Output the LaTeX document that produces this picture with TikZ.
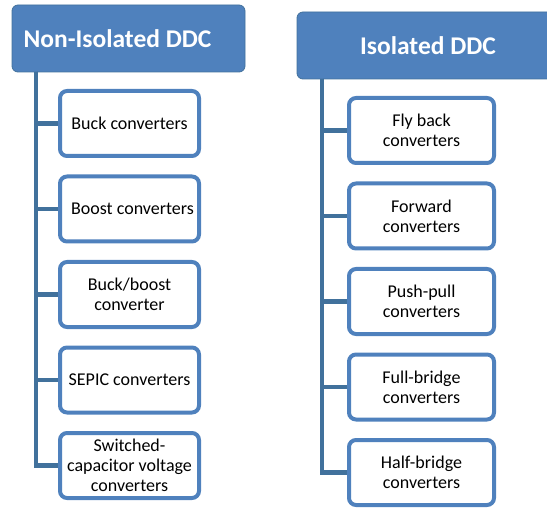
\documentclass[tikz,border=0pt]{standalone}
\usepackage{fontspec}
\setmainfont{Carlito}
\usetikzlibrary{positioning}
\definecolor{hdrblue}{HTML}{4F81BD}
\definecolor{lineblue}{HTML}{41719C}

\begin{document}
\begin{tikzpicture}[x=1pt,y=-1pt,
  hdr/.style={draw=lineblue,line width=0.8pt,fill=hdrblue,rounded corners=6pt,
    text=white,font=\fontsize{25.5}{28}\selectfont\bfseries,inner sep=0pt},
  item/.style={draw=hdrblue,line width=4pt,fill=white,rounded corners=7pt,
    align=center,font=\fontsize{18}{20}\selectfont,inner sep=0pt},
  conn/.style={draw=lineblue,line width=4.5pt}]
  \useasboundingbox (0,0) rectangle (547,508);
  \clip (0,0) rectangle (547,508);
  % headers
  \node[hdr,minimum width=233pt,minimum height=67pt] (nih) at (128.5,38.5) {Non-Isolated DDC\hspace*{22pt}};
  \node[hdr,minimum width=262pt,minimum height=67pt] (isoh) at (428,45.5) {Isolated DDC};
  \coordinate (trunkL) at (36,72);
  \coordinate (trunkR) at (322,79);
  % non-isolated converters
  \node[item,minimum width=139pt,minimum height=65pt] (ni1) at (129.5,123.5) {Buck converters};
  \node[item,minimum width=139pt,minimum height=65pt] (ni2) at (129.5,209) {\hspace*{6pt}Boost converters};
  \node[item,minimum width=139pt,minimum height=65pt] (ni3) at (129.5,294.5) {Buck/boost\\converter};
  \node[item,minimum width=139pt,minimum height=65pt] (ni4) at (129.5,380) {SEPIC converters};
  \node[item,minimum width=139pt,minimum height=65pt] (ni5) at (129.5,465.5) {Switched-\\capacitor voltage\\converters};
  % isolated converters
  \node[item,minimum width=145pt,minimum height=65pt] (iso1) at (421.5,130.5) {Fly back\\converters};
  \node[item,minimum width=145pt,minimum height=65pt] (iso2) at (421.5,216) {Forward\\converters};
  \node[item,minimum width=145pt,minimum height=65pt] (iso3) at (421.5,301.5) {Push-pull\\converters};
  \node[item,minimum width=145pt,minimum height=65pt] (iso4) at (421.5,387) {Full-bridge\\converters};
  \node[item,minimum width=145pt,minimum height=65pt] (iso5) at (421.5,472.5) {Half-bridge\\converters};
  % connectors
  \foreach \i in {1,...,5} {
    \draw[conn] (trunkL) |- (ni\i.west);
    \draw[conn] (trunkR) |- (iso\i.west);
  }
\end{tikzpicture}
\end{document}
